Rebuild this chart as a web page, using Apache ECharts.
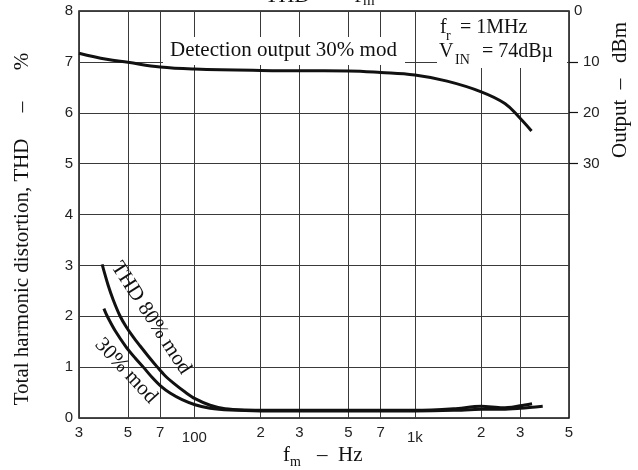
<!DOCTYPE html>
<html><head><meta charset="utf-8">
<script src="https://cdn.jsdelivr.net/npm/echarts@6/dist/echarts.min.js"></script>
<style>html,body{margin:0;padding:0;background:#fff}#c{width:638px;height:470px}</style>
</head><body><div id="c"></div>
<script>
// ---- data ----
const freqTicks = [30, 50, 70, 100, 200, 300, 500, 700, 1000, 2000, 3000, 5000];
const freqTickLabels = ['3', '5', '7', '100', '2', '3', '5', '7', '1k', '2', '3', '5'];
const outputTicks = [0, -10, -20, -30];

const thd80Freq = [38.2, 40.6, 42.9, 46.1, 49, 52.7, 56.7, 61.7, 68, 73.7, 81.8, 90.8, 100.8, 117.9, 137.9, 170, 221, 300, 500, 700, 1000, 1500, 2000, 2500, 3000, 3400];
const thd80Val  = [3.02, 2.62, 2.32, 2.0, 1.8, 1.6, 1.42, 1.22, 1.0, 0.83, 0.66, 0.51, 0.38, 0.25, 0.18, 0.155, 0.15, 0.15, 0.15, 0.15, 0.15, 0.18, 0.23, 0.2, 0.24, 0.28];
const thd30Freq = [38.9, 40.3, 43.7, 49, 53.9, 58.7, 64.3, 70.7, 77.6, 88, 100.8, 117.9, 145.3, 199, 300, 500, 700, 1000, 1500, 2000, 2500, 3000, 3800];
const thd30Val  = [2.15, 2.0, 1.72, 1.4, 1.18, 1.0, 0.8, 0.62, 0.49, 0.36, 0.26, 0.19, 0.155, 0.14, 0.14, 0.14, 0.14, 0.14, 0.15, 0.17, 0.17, 0.19, 0.23];
const outFreq = [30, 40, 50, 70, 100, 200, 300, 500, 700, 1000, 1400, 2000, 2560, 3000, 3380];
const outDbm  = [-8.3, -9.5, -10.1, -11.0, -11.4, -11.7, -11.75, -11.8, -12.1, -12.6, -13.8, -15.9, -18.2, -21.1, -23.6];

// ---- chart ----
const sans = '"Liberation Sans", Arial, sans-serif';
const serifName = '"Liberation Serif", "Times New Roman", serif';
const ink = '#111';
const gridColor = '#3a3a3a';
const pair = (xs, ys) => xs.map((x, i) => [x, ys[i]]);
const labelFor = v => {
  const i = freqTicks.findIndex(t => Math.abs(t - v) / t < 0.01);
  return i < 0 ? '' : freqTickLabels[i];
};
const txt = (x, y, text, size, rotation, align) => ({
  type: 'text', x: x, y: y, z: 5, rotation: rotation || 0,
  style: { text: text, font: size + 'px ' + serifName, fill: ink,
           textAlign: align || 'left', textVerticalAlign: 'middle' }
});

const chart = echarts.init(document.getElementById('c'));
const lineStyleMain = { color: ink, width: 3 };

chart.setOption({
  animation: false,
  backgroundColor: '#fff',
  grid: [
    { left: 79, right: 69, top: 11, bottom: 52, show: true, borderColor: ink, borderWidth: 1.5, backgroundColor: 'transparent' },
    { left: 79, right: 69, top: 11, height: 152.5 }
  ],
  xAxis: [
    {
      type: 'log', logBase: 10, min: 30, max: 5000, gridIndex: 0,
      axisLine: { show: false },
      axisTick: { show: false, customValues: freqTicks },
      splitLine: { show: true, lineStyle: { color: gridColor, width: 1 } },
      axisLabel: {
        customValues: freqTicks,
        formatter: v => { const s = labelFor(v); return (s === '100' || s === '1k') ? '{low|' + s + '}' : s; },
        color: '#222', fontFamily: sans, fontSize: 15, margin: 7,
        rich: { low: { fontFamily: sans, fontSize: 15, color: '#222', padding: [5, 0, 0, 0] } }
      }
    },
    { type: 'log', logBase: 10, min: 30, max: 5000, gridIndex: 1, show: false }
  ],
  yAxis: [
    {
      type: 'value', min: 0, max: 8, interval: 1, gridIndex: 0,
      axisLine: { show: false }, axisTick: { show: false },
      splitLine: { show: true, lineStyle: { color: gridColor, width: 1 } },
      axisLabel: { color: '#222', fontFamily: sans, fontSize: 15, margin: 6 }
    },
    {
      type: 'value', min: -30, max: 0, interval: 10, gridIndex: 1, position: 'right',
      axisLine: { show: false }, splitLine: { show: false },
      axisTick: { show: true, inside: false, length: 9, customValues: [-10, -20, -30], lineStyle: { color: ink, width: 1.2 } },
      axisLabel: {
        customValues: outputTicks,
        formatter: v => v === 0 ? '0' : '{p|' + Math.abs(v) + '}',
        color: '#222', fontFamily: sans, fontSize: 15, margin: 5,
        rich: { p: { fontFamily: sans, fontSize: 15, color: '#222', padding: [0, 0, 0, 9] } }
      }
    }
  ],
  series: [
    { name: 'THD 80% mod', type: 'line', xAxisIndex: 0, yAxisIndex: 0, data: pair(thd80Freq, thd80Val),
      showSymbol: false, smooth: 0.3, lineStyle: lineStyleMain, z: 3 },
    { name: 'THD 30% mod', type: 'line', xAxisIndex: 0, yAxisIndex: 0, data: pair(thd30Freq, thd30Val),
      showSymbol: false, smooth: 0.3, lineStyle: lineStyleMain, z: 3 },
    { name: 'Detection output 30% mod', type: 'line', xAxisIndex: 1, yAxisIndex: 1, data: pair(outFreq, outDbm),
      showSymbol: false, smooth: 0.4, lineStyle: lineStyleMain, z: 3 }
  ],
  graphic: [
    { type: 'rect', z: 1, shape: { x: 163, y: 37, width: 242, height: 28 }, style: { fill: '#fff' } },
    { type: 'rect', z: 1, shape: { x: 437, y: 12, width: 130, height: 56 }, style: { fill: '#fff' } },
    txt(170, 50, 'Detection output 30% mod', 21),
    txt(440, 28, 'f', 20),
    txt(446, 36, 'r', 14),
    txt(460, 28, '= 1MHz', 20),
    txt(439, 52, 'V', 20),
    txt(455, 60, 'IN', 14),
    txt(482, 52, '= 74dBµ', 20),
    // axis titles
    txt(22, 229, 'Total harmonic distortion, THD     \u2013      %', 21, Math.PI / 2, 'center'),
    txt(620, 90, 'Output  \u2013   dBm', 21, Math.PI / 2, 'center'),
    txt(283, 455, 'f', 21),
    txt(290, 462, 'm', 14),
    txt(317, 455, '\u2013  Hz', 21),
    // chart title (cut by the top edge as in the reference)
    txt(265, -4, 'THD   \u2013   f', 22),
    txt(363, 1, 'm', 15),
    // curve labels
    txt(151, 318, 'THD 80% mod', 21, -0.995, 'center'),
    txt(126, 371, '30% mod', 21, -0.82, 'center')
  ]
});
</script>
</body></html>
